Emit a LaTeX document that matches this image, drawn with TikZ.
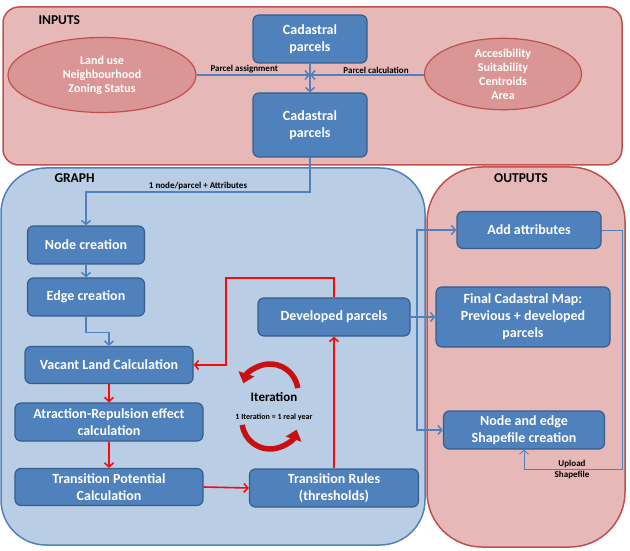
\documentclass[tikz,border=0pt]{standalone}
\usepackage{fontspec}
\setmainfont{Carlito}
\usetikzlibrary{arrows.meta,positioning,calc,shapes.geometric}
\definecolor{boxblue}{RGB}{79,129,189}
\definecolor{boxedge}{RGB}{56,93,138}
\definecolor{pinkbg}{RGB}{230,185,184}
\definecolor{pinkedge}{RGB}{192,80,77}
\definecolor{ellfill}{RGB}{218,150,148}
\definecolor{graphbg}{RGB}{185,205,229}
\definecolor{arrred}{RGB}{250,10,10}
\definecolor{iterred}{RGB}{200,16,16}
\tikzset{
  procbox/.style={draw=boxedge,fill=boxblue,line width=1.2pt,rounded corners=6pt,text=white,
    font=\fontsize{14}{17}\selectfont\bfseries,align=center,inner sep=0pt},
  inellipse/.style={ellipse,draw=pinkedge,fill=ellfill,line width=1.2pt,text=white,
    font=\fontsize{12}{14}\selectfont\bfseries,align=center,inner sep=0pt},
  bluearr/.style={draw=boxblue,line width=1.5pt,-{Straight Barb[length=4pt,width=9pt]}},
  thinarr/.style={draw=boxblue,line width=0.8pt,-{Straight Barb[length=4pt,width=9pt]}},
  redarr/.style={draw=arrred,line width=1.6pt,-{Straight Barb[length=4pt,width=9pt]}},
  iterarc/.style={draw=iterred,line width=5.5pt,-{Triangle[length=10pt,width=16pt]}},
  grouplabel/.style={font=\fontsize{13.5}{15}\selectfont\bfseries},
  smalllabel/.style={font=\fontsize{9}{10}\selectfont\bfseries,inner sep=1pt}
}
\begin{document}
\begin{tikzpicture}[x=1pt,y=1pt]
  \useasboundingbox (0,0) rectangle (630,550);
  % group backgrounds
  \draw[fill=pinkbg,draw=pinkedge,line width=1.5pt,rounded corners=16pt] (3,385) rectangle (622,543);
  \draw[fill=graphbg,draw=boxblue,line width=1.5pt,rounded corners=45pt] (1,5) rectangle (425,382);
  \draw[fill=pinkbg,draw=pinkedge,line width=1.5pt,rounded corners=55pt] (427,3) rectangle (625,383);
  \node[grouplabel,anchor=west] (inlbl) at (35,530) {INPUTS};
  \node[grouplabel,anchor=west] (graphlbl) at (51,372) {GRAPH};
  \node[grouplabel] (outlbl) at (521,372) {OUTPUTS};

  % inputs
  \node[procbox,minimum width=114pt,minimum height=48pt] (cad1) at (310,511) {Cadastral\\parcels};
  \node[procbox,minimum width=114pt,minimum height=64pt] (cad2) at (310,425) {Cadastral\\parcels};
  \node[inellipse,minimum width=188pt,minimum height=75pt] (landuse) at (102,475) {Land use\\Neighbourhood\\Zoning Status};
  \node[inellipse,minimum width=157pt,minimum height=63pt] (access) at (503,476) {Accesibility\\Suitability\\Centroids\\Area};
  \coordinate (junc) at (310,475);
  \draw[bluearr] (cad1.south) -- (cad2.north);
  \draw[bluearr] (landuse.east |- junc) -- node[smalllabel,above,pos=0.42] {Parcel assignment} (junc);
  \draw[bluearr] (access.west |- junc) -- node[smalllabel,above,pos=0.42] {Parcel calculation} (junc);

  % graph
  \node[procbox,minimum width=117pt,minimum height=38pt] (nodecr) at (86,305) {Node creation};
  \node[procbox,minimum width=117pt,minimum height=38pt] (edgecr) at (86,253) {Edge creation};
  \node[procbox,minimum width=168pt,minimum height=37pt] (vacant) at (109,185) {Vacant Land Calculation};
  \node[procbox,minimum width=188pt,minimum height=38pt] (attract) at (109,128) {Atraction-Repulsion effect\\calculation};
  \node[procbox,minimum width=188pt,minimum height=37pt] (transpot) at (109,63) {Transition Potential\\Calculation};
  \node[procbox,minimum width=152pt,minimum height=38pt] (devel) at (334,233) {Developed parcels};
  \node[procbox,minimum width=169pt,minimum height=38pt] (transrules) at (334,62) {Transition Rules\\(thresholds)};

  \coordinate (bend1) at (310,358);
  \draw[bluearr] (cad2.south) -- (bend1) -- node[smalllabel,above] {1 node/parcel \textbf{+} Attributes} (nodecr.north |- bend1) -- (nodecr.north);
  \draw[bluearr] (nodecr.south) -- (edgecr.north);
  \draw[bluearr] (edgecr.south) -- ++(0,-16) -| (vacant.north);

  \draw[redarr] (vacant.south) -- (attract.north);
  \draw[redarr] (attract.south) -- (transpot.north);
  \draw[redarr] (transpot.east) -- (transrules.west);
  \draw[redarr] (transrules.north) -- (devel.south);
  \coordinate (loopx) at (226,272);
  \draw[redarr] (devel.north) |- (loopx) |- (vacant.east);

  % iteration
  \node[font=\fontsize{13}{15}\selectfont\bfseries] (iterlbl) at (274,153) {Iteration};
  \node[font=\fontsize{8}{9}\selectfont\bfseries] (iteryear) at (274,133) {1 Iteration = 1 real year};
  \coordinate (itop) at (270,158);
  \coordinate (ibot) at (270,129);
  \draw[iterarc] ([shift={(8:28pt)}]itop) arc[start angle=8,end angle=162,radius=28pt];
  \draw[iterarc] ([shift={(188:28pt)}]ibot) arc[start angle=188,end angle=342,radius=28pt];

  % outputs
  \node[procbox,minimum width=144pt,minimum height=37pt] (addattr) at (529,320) {Add attributes};
  \node[procbox,minimum width=174pt,minimum height=60pt] (finalmap) at (523,233) {Final Cadastral Map:\\Previous + developed\\parcels};
  \node[procbox,minimum width=161pt,minimum height=38pt] (shapefile) at (524,120) {Node and edge\\Shapefile creation};

  \coordinate (trunk) at (417,233);
  \draw[bluearr] (devel.east) -- (finalmap.west);
  \draw[bluearr] (trunk) |- (addattr.west);
  \draw[bluearr] (trunk) |- (shapefile.west);
  \coordinate (upl) at (622,81);
  \draw[thinarr] (addattr.east) -| (upl) -- (shapefile.south |- upl) -- (shapefile.south);
  \node[smalllabel,align=center,font=\fontsize{9}{11}\selectfont\bfseries] (upllbl) at (572,80) {Upload\\Shapefile};
\end{tikzpicture}
\end{document}
